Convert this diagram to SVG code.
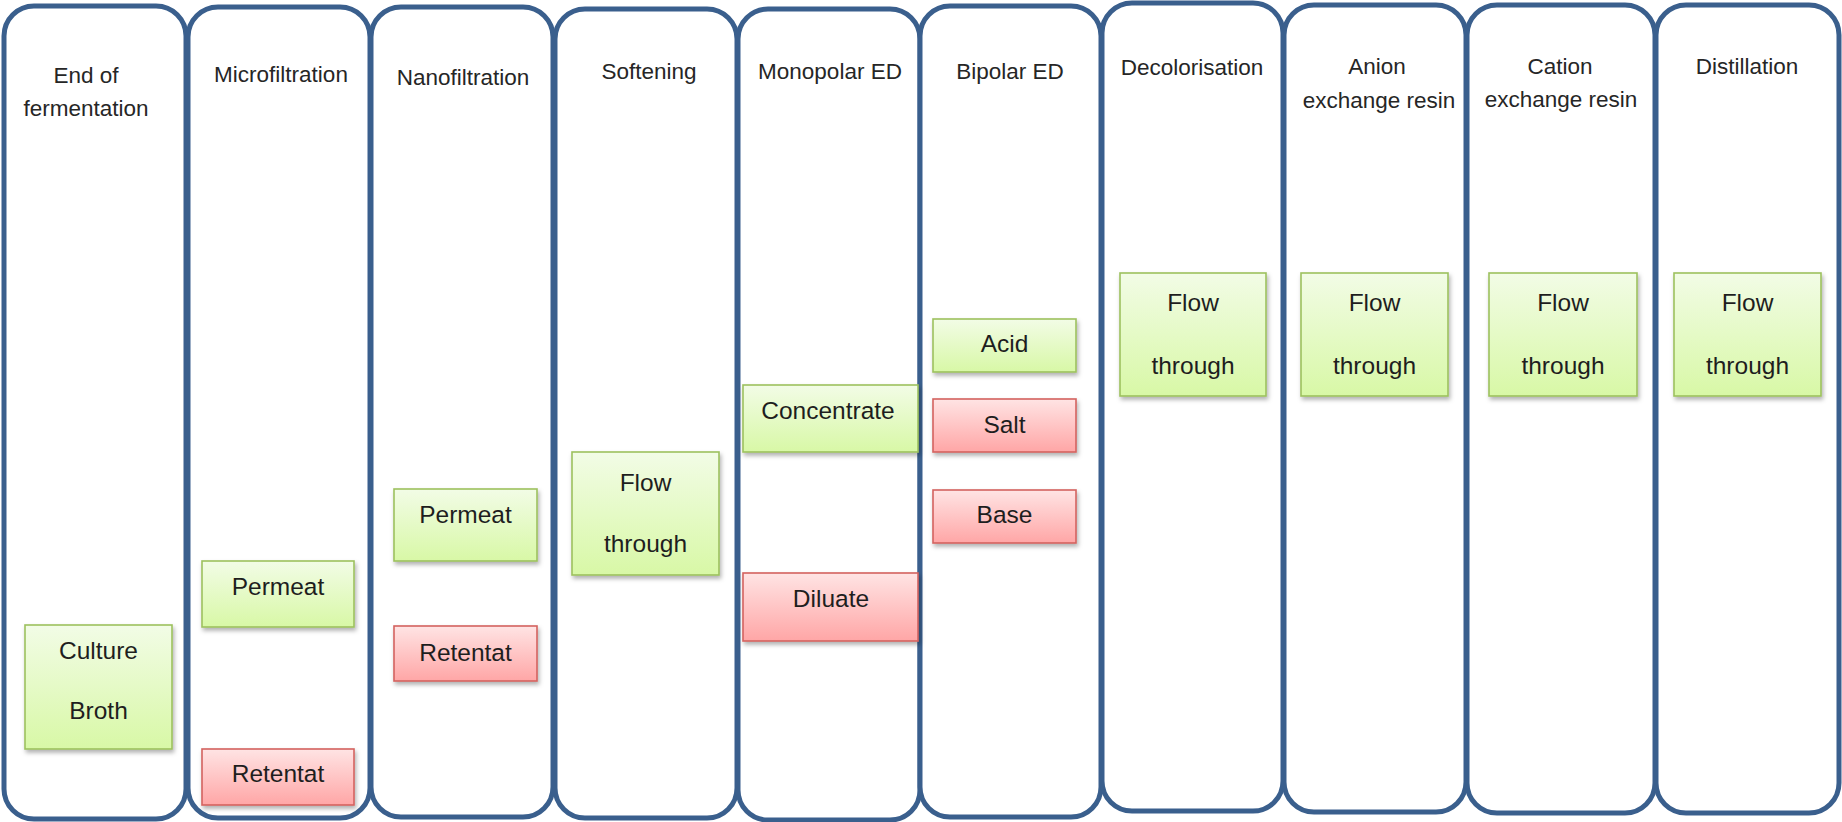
<svg xmlns="http://www.w3.org/2000/svg" width="1842" height="822" viewBox="0 0 1842 822">
<defs>
<linearGradient id="gGreen" x1="0" y1="0" x2="0" y2="1">
<stop offset="0" stop-color="#F2FCE6"/>
<stop offset="1" stop-color="#D8F8A6"/>
</linearGradient>
<linearGradient id="gRed" x1="0" y1="0" x2="0" y2="1">
<stop offset="0" stop-color="#FFE4E4"/>
<stop offset="1" stop-color="#FFA6A6"/>
</linearGradient>
<filter id="shadow" x="-10%" y="-10%" width="125%" height="130%">
<feDropShadow dx="1.5" dy="3" stdDeviation="2" flood-color="#000" flood-opacity="0.3"/>
</filter>
<style>
.col{fill:#FFFFFF;stroke:#3A5F8D;stroke-width:5}
.green{fill:url(#gGreen);stroke:#9DC15E;stroke-width:1.6;filter:url(#shadow)}
.red{fill:url(#gRed);stroke:#D4625F;stroke-width:1.6;filter:url(#shadow)}
.hdr{font-family:"Liberation Sans",Arial,sans-serif;font-size:22.5px;fill:#262626;text-anchor:middle;dominant-baseline:central}
.lbl{font-family:"Liberation Sans",Arial,sans-serif;font-size:24.5px;fill:#1E1E1E;text-anchor:middle;dominant-baseline:central}
</style>
</defs>

<g id="columns">
<g id="col-end-of-fermentation">
<rect class="col" x="4" y="6" width="182" height="813" rx="30" ry="30"/>
<text class="hdr" x="86" y="75">End of</text>
<text class="hdr" x="86" y="108">fermentation</text>
</g>
<g id="col-microfiltration">
<rect class="col" x="188" y="7" width="182" height="811" rx="30" ry="30"/>
<text class="hdr" x="281" y="74">Microfiltration</text>
</g>
<g id="col-nanofiltration">
<rect class="col" x="371" y="7" width="182" height="810" rx="30" ry="30"/>
<text class="hdr" x="463" y="77">Nanofiltration</text>
</g>
<g id="col-softening">
<rect class="col" x="555" y="9" width="182" height="809" rx="30" ry="30"/>
<text class="hdr" x="649" y="71">Softening</text>
</g>
<g id="col-monopolar-ed">
<rect class="col" x="738" y="9" width="182" height="811" rx="30" ry="30"/>
<text class="hdr" x="830" y="71">Monopolar ED</text>
</g>
<g id="col-bipolar-ed">
<rect class="col" x="920" y="6" width="181" height="811" rx="30" ry="30"/>
<text class="hdr" x="1010" y="71">Bipolar ED</text>
</g>
<g id="col-decolorisation">
<rect class="col" x="1102" y="3" width="181" height="808" rx="30" ry="30"/>
<text class="hdr" x="1192" y="67">Decolorisation</text>
</g>
<g id="col-anion-exchange">
<rect class="col" x="1284" y="5" width="182" height="807" rx="30" ry="30"/>
<text class="hdr" x="1377" y="66">Anion</text>
<text class="hdr" x="1379" y="100">exchange resin</text>
</g>
<g id="col-cation-exchange">
<rect class="col" x="1467" y="5" width="188" height="808" rx="30" ry="30"/>
<text class="hdr" x="1560" y="66">Cation</text>
<text class="hdr" x="1561" y="99">exchange resin</text>
</g>
<g id="col-distillation">
<rect class="col" x="1656" y="5" width="183" height="808" rx="30" ry="30"/>
<text class="hdr" x="1747" y="66">Distillation</text>
</g>
</g>

<g id="connectors"></g>

<g id="nodes">
<g id="culture-broth">
<rect class="green" x="25" y="625" width="147" height="124"/>
<text class="lbl" x="98.5" y="650">Culture</text>
<text class="lbl" x="98.5" y="710">Broth</text>
</g>
<g id="mf-permeat">
<rect class="green" x="202" y="561" width="152" height="66"/>
<text class="lbl" x="278" y="586">Permeat</text>
</g>
<g id="mf-retentat">
<rect class="red" x="202" y="749" width="152" height="56"/>
<text class="lbl" x="278" y="773">Retentat</text>
</g>
<g id="nf-permeat">
<rect class="green" x="394" y="489" width="143" height="72"/>
<text class="lbl" x="465.5" y="514">Permeat</text>
</g>
<g id="nf-retentat">
<rect class="red" x="394" y="626" width="143" height="55"/>
<text class="lbl" x="465.5" y="652">Retentat</text>
</g>
<g id="softening-flow">
<rect class="green" x="572" y="452" width="147" height="123"/>
<text class="lbl" x="645.5" y="482">Flow</text>
<text class="lbl" x="645.5" y="543">through</text>
</g>
<g id="concentrate">
<rect class="green" x="743" y="385" width="175" height="67"/>
<text class="lbl" x="828" y="410">Concentrate</text>
</g>
<g id="diluate">
<rect class="red" x="743" y="573" width="175" height="68"/>
<text class="lbl" x="831" y="598">Diluate</text>
</g>
<g id="acid">
<rect class="green" x="933" y="319" width="143" height="53"/>
<text class="lbl" x="1004.5" y="343">Acid</text>
</g>
<g id="salt">
<rect class="red" x="933" y="399" width="143" height="53"/>
<text class="lbl" x="1004.5" y="424">Salt</text>
</g>
<g id="base">
<rect class="red" x="933" y="490" width="143" height="53"/>
<text class="lbl" x="1004.5" y="514">Base</text>
</g>
<g id="decolorisation-flow">
<rect class="green" x="1120" y="273" width="146" height="123"/>
<text class="lbl" x="1193" y="302">Flow</text>
<text class="lbl" x="1193" y="365">through</text>
</g>
<g id="anion-flow">
<rect class="green" x="1301" y="273" width="147" height="123"/>
<text class="lbl" x="1374.5" y="302">Flow</text>
<text class="lbl" x="1374.5" y="365">through</text>
</g>
<g id="cation-flow">
<rect class="green" x="1489" y="273" width="148" height="123"/>
<text class="lbl" x="1563" y="302">Flow</text>
<text class="lbl" x="1563" y="365">through</text>
</g>
<g id="distillation-flow">
<rect class="green" x="1674" y="273" width="147" height="123"/>
<text class="lbl" x="1747.5" y="302">Flow</text>
<text class="lbl" x="1747.5" y="365">through</text>
</g>
</g>
</svg>
